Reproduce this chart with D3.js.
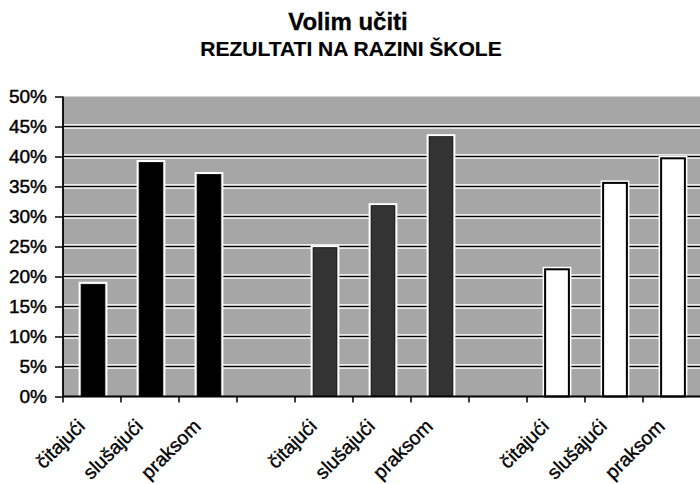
<!DOCTYPE html>
<html>
<head>
<meta charset="utf-8">
<script src="https://cdn.jsdelivr.net/npm/d3@7/dist/d3.min.js"></script>
<style>
  html, body { margin: 0; padding: 0; background: #fff; }
  svg { display: block; }
  text { font-family: "Liberation Sans", Arial, sans-serif; fill: #000; }
</style>
</head>
<body>
<svg id="chart" width="700" height="484"></svg>
<script>
// ---- data ----
const title = "Volim učiti";
const subtitle = "REZULTATI NA RAZINI ŠKOLE";
const categories = ["čitajući", "slušajući", "praksom"];
const group1 = [18.7, 39.0, 37.0];
const group2 = [24.8, 31.8, 43.3];
const group3 = [21.2, 35.6, 39.7];
const yTicks = [0, 5, 10, 15, 20, 25, 30, 35, 40, 45, 50];
const yTickLabels = ["0%", "5%", "10%", "15%", "20%", "25%", "30%", "35%", "40%", "45%", "50%"];

// ---- layout ----
const pLeft = 63, pRight = 701, pTop = 96.5, pBottom = 396.5;
const svg = d3.select("#chart");

const groups = [group1, group2, group3];
const groupFill = ["#000000", "#333333", "#ffffff"];
const slotsPerGroup = categories.length + 1;
const nSlots = groups.length * slotsPerGroup - 1;
const slots = d3.range(nSlots);

const x = d3.scaleBand().domain(slots).range([pLeft, pRight]).padding(0);
const y = d3.scaleLinear().domain([0, 50]).range([pBottom, pTop]);

const bars = [];
groups.forEach((g, gi) => g.forEach((v, ci) => {
  bars.push({ slot: gi * slotsPerGroup + ci, value: v, group: gi, label: categories[ci] });
}));

// titles
svg.append("text").attr("x", 348).attr("y", 29.5).attr("text-anchor", "middle")
  .style("font-size", "24px").style("font-weight", "bold")
  .attr("stroke", "#000").attr("stroke-width", 0.3).text(title);
svg.append("text").attr("x", 351).attr("y", 55.5).attr("text-anchor", "middle")
  .style("font-size", "21px").style("font-weight", "bold")
  .attr("stroke", "#000").attr("stroke-width", 0.2).text(subtitle);

// plot background
svg.append("rect").attr("x", pLeft).attr("y", pTop)
  .attr("width", pRight - pLeft).attr("height", pBottom - pTop).attr("fill", "#a6a6a6");

// gridlines (white halo + black line)
const grid = svg.append("g");
yTicks.filter(t => t > 0 && t < 50).forEach(t => {
  grid.append("line").attr("x1", pLeft).attr("x2", pRight).attr("y1", y(t)).attr("y2", y(t))
    .attr("stroke", "#fff").attr("stroke-width", 4.5);
  grid.append("line").attr("x1", pLeft).attr("x2", pRight).attr("y1", y(t)).attr("y2", y(t))
    .attr("stroke", "#000").attr("stroke-width", 1.6);
});

// bars
const bw = x.bandwidth() * 0.41;
const barG = svg.append("g");
barG.selectAll("rect.halo").data(bars).join("rect").attr("class", "halo")
  .attr("x", d => x(d.slot) + x.bandwidth() / 2 - bw / 2 + 1)
  .attr("y", d => y(d.value))
  .attr("width", bw).attr("height", d => pBottom - y(d.value))
  .attr("fill", "none").attr("stroke", "#fff").attr("stroke-width", 5);
barG.selectAll("rect.bar").data(bars).join("rect").attr("class", "bar")
  .attr("x", d => x(d.slot) + x.bandwidth() / 2 - bw / 2 + 1)
  .attr("y", d => y(d.value))
  .attr("width", bw).attr("height", d => pBottom - y(d.value))
  .attr("fill", d => groupFill[d.group])
  .attr("stroke", "#000").attr("stroke-width", d => d.group === 2 ? 2 : 0.8);

// y axis
const yAxis = d3.axisLeft(y).tickValues(yTicks).tickFormat((d, i) => yTickLabels[i])
  .tickSize(8).tickPadding(8);
const yg = svg.append("g").attr("transform", `translate(${pLeft},0)`).call(yAxis);
yg.select(".domain").remove();
yg.selectAll(".tick line").attr("stroke", "#000").attr("stroke-width", 1.5);
yg.selectAll(".tick text").style("font-size", "19px")
  .style("font-family", "'Liberation Sans', Arial, sans-serif").attr("fill", "#000")
  .attr("stroke", "#000").attr("stroke-width", 0.45);
svg.append("line").attr("x1", pLeft).attr("x2", pLeft).attr("y1", pTop).attr("y2", pBottom + 0.5)
  .attr("stroke", "#000").attr("stroke-width", 1.8);

// x axis
svg.append("line").attr("x1", pLeft).attr("x2", pRight).attr("y1", pBottom).attr("y2", pBottom)
  .attr("stroke", "#000").attr("stroke-width", 1.8);
const edges = slots.map(s => x(s)).concat([x.range()[1]]);
svg.append("g").selectAll("line").data(edges).join("line")
  .attr("x1", d => d).attr("x2", d => d).attr("y1", pBottom).attr("y2", pBottom + 6)
  .attr("stroke", "#000").attr("stroke-width", 1.5);

svg.append("g").selectAll("text").data(bars).join("text")
  .attr("transform", d => `translate(${x(d.slot) + x.bandwidth() / 2 - 6},${pBottom + 31}) rotate(-45)`)
  .attr("text-anchor", "end")
  .style("font-size", "19.5px")
  .attr("stroke", "#000").attr("stroke-width", 0.35)
  .text(d => d.label);
</script>
</body>
</html>
